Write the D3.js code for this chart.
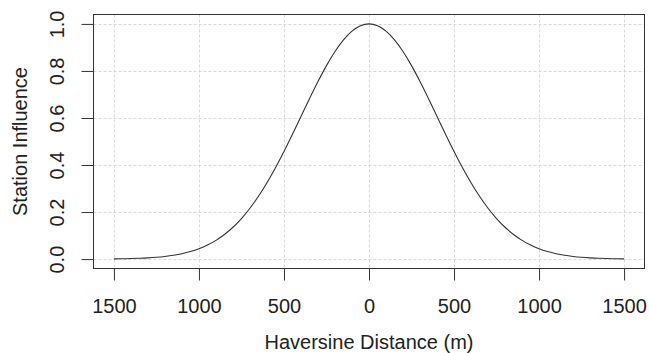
<!DOCTYPE html>
<html>
<head>
<meta charset="utf-8">
<script src="https://cdn.jsdelivr.net/npm/d3@7"></script>
<style>
  body { margin: 0; background: #fff; }
  text { font-family: "Liberation Sans", Arial, sans-serif; fill: #222; }
</style>
</head>
<body>
<div id="chart"></div>
<script>
// distance from station (m) and the influence
const distance = [
  -1500, -1450, -1400, -1350, -1300, -1250, -1200, -1150, -1100, -1050,
  -1000, -950, -900, -850, -800, -750, -700, -650, -600, -550,
  -500, -450, -400, -350, -300, -250, -200, -150, -100, -50,
  0, 50, 100, 150, 200, 250, 300, 350, 400, 450,
  500, 550, 600, 650, 700, 750, 800, 850, 900, 950,
  1000, 1050, 1100, 1150, 1200, 1250, 1300, 1350, 1400, 1450, 1500
];
const influence = [
  0.0009, 0.0014, 0.0022, 0.0034, 0.0051, 0.0076, 0.0111, 0.0160, 0.0228, 0.0319,
  0.0439, 0.0596, 0.0796, 0.1046, 0.1353, 0.1724, 0.2163, 0.2671, 0.3247, 0.3886,
  0.4578, 0.5311, 0.6065, 0.6819, 0.7548, 0.8226, 0.8825, 0.9321, 0.9692, 0.9922,
  1.0000, 0.9922, 0.9692, 0.9321, 0.8825, 0.8226, 0.7548, 0.6819, 0.6065, 0.5311,
  0.4578, 0.3886, 0.3247, 0.2671, 0.2163, 0.1724, 0.1353, 0.1046, 0.0796, 0.0596,
  0.0439, 0.0319, 0.0228, 0.0160, 0.0111, 0.0076, 0.0051, 0.0034, 0.0022, 0.0014, 0.0009
];
const xTicks = [-1500, -1000, -500, 0, 500, 1000, 1500];
const yTicks = [0, 0.2, 0.4, 0.6, 0.8, 1.0];

const W = 649, H = 353;
const plot = { left: 93.5, right: 644.5, top: 14.5, bottom: 268.5 };

const svg = d3.select("#chart").append("svg")
  .attr("width", W).attr("height", H);

const x = d3.scaleLinear().domain([-1620, 1620]).range([plot.left, plot.right]);
const y = d3.scaleLinear().domain([-0.04, 1.04]).range([plot.bottom, plot.top]);

// dotted grid
svg.append("g").selectAll("line").data(xTicks).enter().append("line")
  .attr("x1", d => Math.round(x(d)) + 0.5).attr("x2", d => Math.round(x(d)) + 0.5)
  .attr("y1", plot.top).attr("y2", plot.bottom)
  .attr("stroke", "#d9d9d9").attr("stroke-dasharray", "3,2");
svg.append("g").selectAll("line").data(yTicks).enter().append("line")
  .attr("y1", d => Math.round(y(d)) + 0.5).attr("y2", d => Math.round(y(d)) + 0.5)
  .attr("x1", plot.left).attr("x2", plot.right)
  .attr("stroke", "#d9d9d9").attr("stroke-dasharray", "3,2");

// curve
svg.append("path")
  .datum(distance.map((d, i) => [d, influence[i]]))
  .attr("fill", "none")
  .attr("stroke", "#333")
  .attr("stroke-width", 1.1)
  .attr("d", d3.line().x(d => x(d[0])).y(d => y(d[1])).curve(d3.curveMonotoneX));

// box
svg.append("rect")
  .attr("x", plot.left).attr("y", plot.top)
  .attr("width", plot.right - plot.left).attr("height", plot.bottom - plot.top)
  .attr("fill", "none").attr("stroke", "#333");

// x axis
const xAxis = svg.append("g").attr("transform", `translate(0,${plot.bottom})`)
  .call(d3.axisBottom(x).tickValues(xTicks).tickSize(12).tickPadding(18)
    .tickFormat(d => Math.abs(d)));
xAxis.select(".domain").remove();
xAxis.selectAll(".tick line").attr("stroke", "#333");
xAxis.selectAll(".tick text").attr("font-size", 20).attr("fill", "#222")
  .style("font-family", "'Liberation Sans', Arial, sans-serif");

// y axis
const yAxis = svg.append("g").attr("transform", `translate(${plot.left},0)`)
  .call(d3.axisLeft(y).tickValues(yTicks).tickSize(12).tickFormat(d3.format(".1f")));
yAxis.select(".domain").remove();
yAxis.selectAll(".tick line").attr("stroke", "#333");
yAxis.selectAll(".tick text")
  .attr("x", null).attr("dy", null)
  .attr("text-anchor", "middle")
  .attr("transform", "translate(-30,0) rotate(-90)")
  .attr("font-size", 20).attr("fill", "#222")
  .style("font-family", "'Liberation Sans', Arial, sans-serif");

// titles
svg.append("text")
  .attr("x", (plot.left + plot.right) / 2).attr("y", 349)
  .attr("text-anchor", "middle").attr("font-size", 20)
  .text("Haversine Distance (m)");
svg.append("text")
  .attr("transform", `translate(27,${(plot.top + plot.bottom) / 2}) rotate(-90)`)
  .attr("text-anchor", "middle").attr("font-size", 20)
  .text("Station Influence");
</script>
</body>
</html>
